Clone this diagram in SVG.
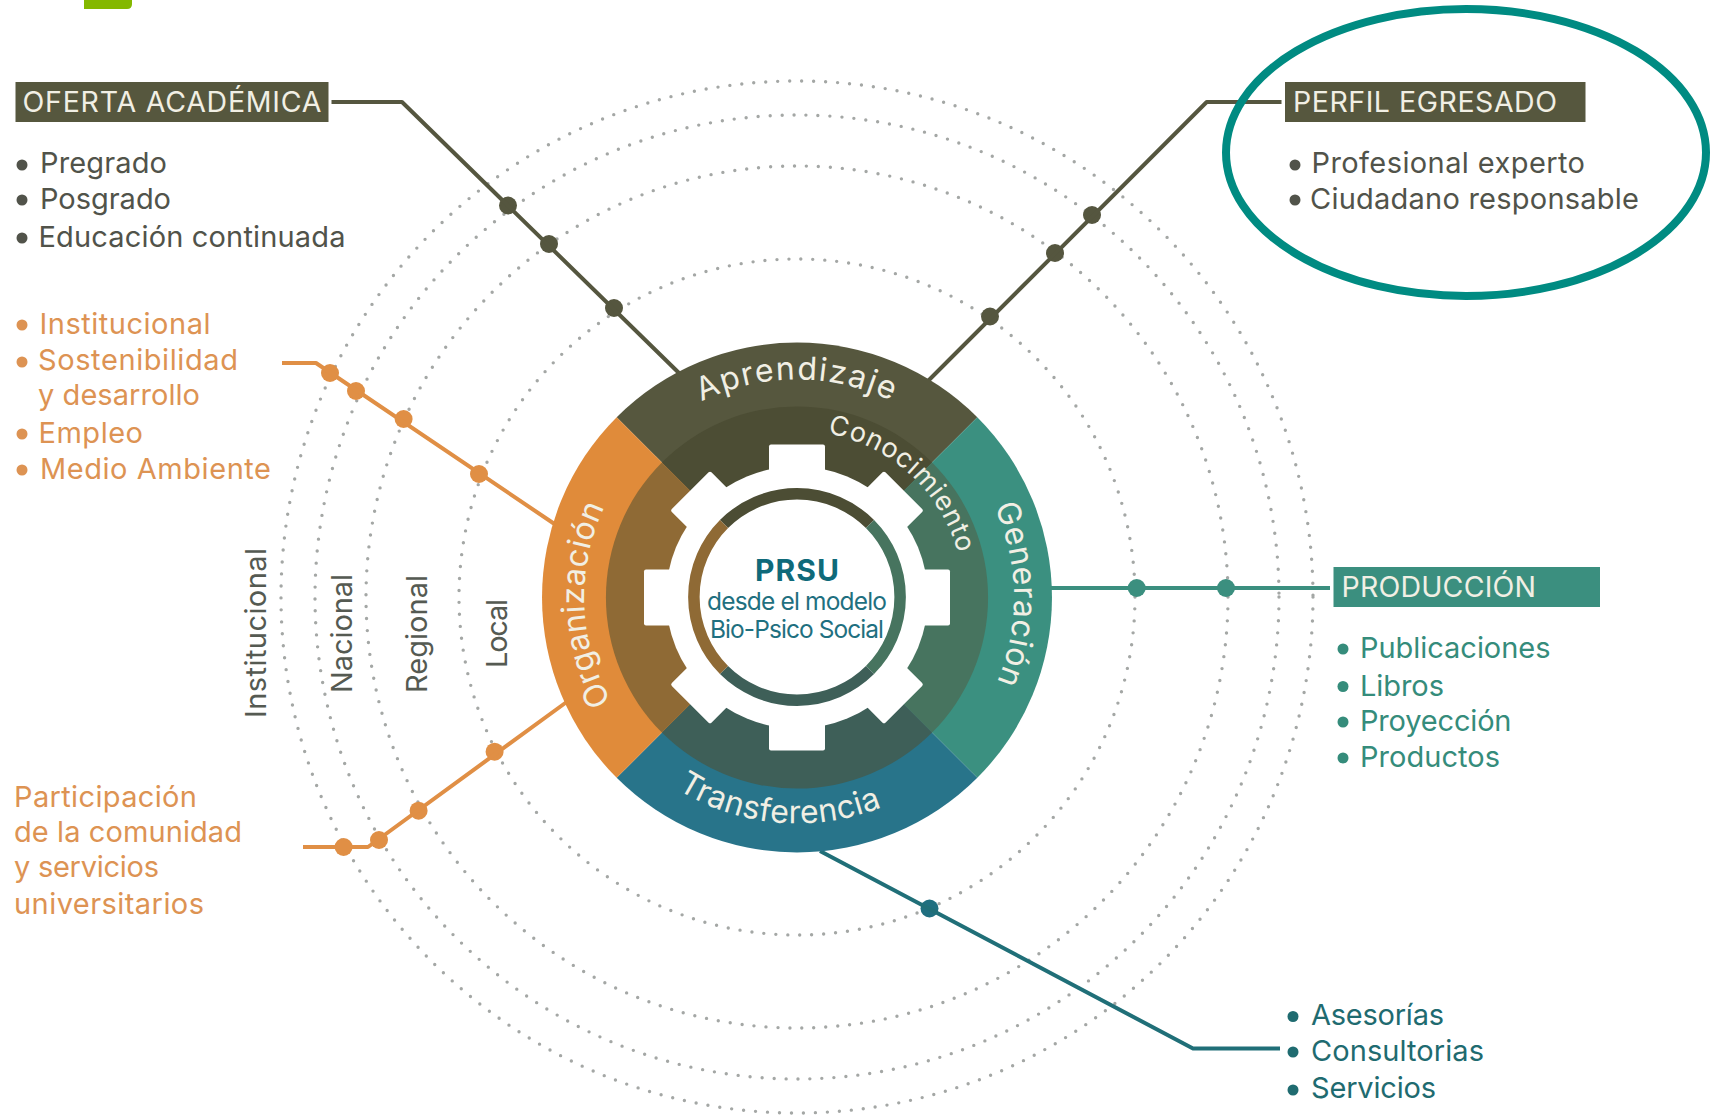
<svg xmlns="http://www.w3.org/2000/svg" width="1711" height="1117" viewBox="0 0 1711 1117">
<style>
text{font-family:"Inter","Liberation Sans",sans-serif;font-size:29px}
.ol{fill:#51534a}.or{fill:#dd9353}.gr{fill:#358c7b}.bl{fill:#1f6b70}
.lb{fill:#f1efe4;font-size:28.5px}
.arc{fill:#f1efe4;font-size:32px}
.orbit{fill:none;stroke:#a4a7a5;stroke-width:3.4;stroke-linecap:round;stroke-dasharray:0 12}
.ln{fill:none;stroke-width:4;stroke-linejoin:round}
.vt{fill:#555a52;font-size:29px}
.c{text-anchor:middle}
</style>
<defs>
<path id="pA" d="M672,418.9A218,218 0 0 1 922,418.9"/>
<path id="pK" d="M797,430.5A167,167 0 0 1 964,597.5"/>
<path id="pG" d="M963.2,457.9A217,217 0 0 1 963.2,737.1"/>
<path id="pO" d="M633.9,734.3A213,213 0 0 1 633.9,460.7"/>
<path id="pT" d="M667.4,782.6A226,226 0 0 0 926.6,782.6"/>
<rect id="tooth" x="-28" y="-153" width="56" height="30" rx="2"/>
<rect id="tooth-d" x="-28" y="-151" width="56" height="30" rx="2"/>
</defs>
<rect width="1711" height="1117" fill="#fff"/>
<path id="green-tab" d="M84,0H132V4Q132,9 127,9H84Z" fill="#84b800"/>
<g id="orbits">
<circle class="orbit" cx="797" cy="597" r="338"/>
<circle class="orbit" cx="797" cy="597" r="431"/>
<circle class="orbit" cx="797" cy="597" r="482"/>
<circle class="orbit" cx="797" cy="597" r="516"/>
</g>
<g id="connectors">
<g fill="#55563f" stroke="none"><circle cx="508" cy="205.5" r="9"/><circle cx="549" cy="244" r="9"/><circle cx="614" cy="308" r="9"/>
<circle cx="1092" cy="215" r="9"/><circle cx="1055" cy="253" r="9"/><circle cx="990" cy="316.5" r="9"/></g>
<path class="ln" stroke="#55563f" d="M331.5,102H402L680,374"/>
<path class="ln" stroke="#55563f" d="M1281.5,102H1206.7L928,381"/>
<g fill="#e08f45"><circle cx="330" cy="373" r="9"/><circle cx="356" cy="391" r="9"/><circle cx="403.6" cy="419" r="9"/><circle cx="479" cy="474" r="9"/>
<circle cx="343.6" cy="847" r="9"/><circle cx="379" cy="840" r="9"/><circle cx="418.6" cy="810.7" r="9"/><circle cx="494.6" cy="751.7" r="9"/></g>
<path class="ln" stroke="#e08f45" d="M282,363H316L556,525"/>
<path class="ln" stroke="#e08f45" d="M303,847H368L568,701"/>
<g fill="#3b8f7f"><circle cx="1136.7" cy="588" r="9"/><circle cx="1226" cy="588" r="9"/></g>
<path class="ln" stroke="#3b8f7f" d="M1050,588H1330"/>
<circle cx="929.5" cy="908.5" r="9" fill="#206f80"/>
<path class="ln" stroke="#206f78" d="M820,851L1193,1048.5H1280"/>
</g>
<g id="ring">
<path id="seg-aprendizaje" fill="#56573e" d="M797,597.5L616.7,417.2A255,255 0 0 1 977.3,417.2Z"/>
<path id="seg-generacion" fill="#3b9080" d="M797,597.5L977.3,417.2A255,255 0 0 1 977.3,777.8Z"/>
<path id="seg-transferencia" fill="#28748a" d="M797,597.5L977.3,777.8A255,255 0 0 1 616.7,777.8Z"/>
<path id="seg-organizacion" fill="#e08b3a" d="M797,597.5L616.7,777.8A255,255 0 0 1 616.7,417.2Z"/>
<path fill="#4c4d34" d="M797,597.5L661.9,462.4A191,191 0 0 1 932.1,462.4Z"/>
<path fill="#47745f" d="M797,597.5L932.1,462.4A191,191 0 0 1 932.1,732.6Z"/>
<path fill="#3e5f58" d="M797,597.5L932.1,732.6A191,191 0 0 1 661.9,732.6Z"/>
<path fill="#8f6a35" d="M797,597.5L661.9,732.6A191,191 0 0 1 661.9,462.4Z"/>
</g>
<g id="gear" fill="#fff" transform="translate(797 597.5)">
<circle r="131"/>
<use href="#tooth"/><use href="#tooth-d" transform="rotate(45)"/><use href="#tooth" transform="rotate(90)"/><use href="#tooth-d" transform="rotate(135)"/>
<use href="#tooth" transform="rotate(180)"/><use href="#tooth-d" transform="rotate(225)"/><use href="#tooth" transform="rotate(270)"/><use href="#tooth-d" transform="rotate(315)"/>
</g>
<g id="hub" fill="none" stroke-width="11.5">
<path stroke="#4c4d34" d="M724,524A103.5,103.5 0 0 1 870,524"/>
<path stroke="#47745f" d="M870,524A103.5,103.5 0 0 1 870,670"/>
<path stroke="#3e5f58" d="M870,670A103.5,103.5 0 0 1 724,670"/>
<path stroke="#8f6a35" d="M724,670A103.5,103.5 0 0 1 724,524"/>
</g>
<g id="ring-labels">
<text class="arc"><textPath href="#pA" startOffset="50%" text-anchor="middle" letter-spacing="1.6">Aprendizaje</textPath></text>
<text class="arc" style="font-size:27px"><textPath href="#pK" startOffset="47.5%" text-anchor="middle" letter-spacing="0.9">Conocimiento</textPath></text>
<text class="arc"><textPath href="#pG" startOffset="49%" text-anchor="middle" letter-spacing="0.7">Generación</textPath></text>
<text class="arc"><textPath href="#pO" startOffset="47.5%" text-anchor="middle" letter-spacing="0.2">Organización</textPath></text>
<text class="arc"><textPath href="#pT" startOffset="43%" text-anchor="middle" letter-spacing="0.5">Transferencia</textPath></text>
</g>
<g id="center">
<text class="c" x="797" y="581" textLength="84" style="font-size:30px;font-weight:700;fill:#0f6a7a">PRSU</text>
<text class="c" x="797" y="609.5" textLength="180" style="font-size:24.5px;fill:#1f7080">desde el modelo</text>
<text class="c" x="797" y="637.5" textLength="174" style="font-size:24.5px;fill:#1f7080">Bio-Psico Social</text>
</g>
<g id="levels">
<text class="vt" transform="translate(266 718) rotate(-90)" textLength="170">Institucional</text>
<text class="vt" transform="translate(352 693) rotate(-90)" textLength="119">Nacional</text>
<text class="vt" transform="translate(427 693) rotate(-90)" textLength="118">Regional</text>
<text class="vt" transform="translate(507 668) rotate(-90)" textLength="69">Local</text>
</g>
<g id="oferta">
<rect x="15.5" y="82" width="313" height="40" fill="#56573e"/>
<text class="lb" x="22.5" y="112" textLength="299">OFERTA ACADÉMICA</text>
<g class="ol"><circle cx="22" cy="165" r="5.5"/><circle cx="22" cy="200" r="5.5"/><circle cx="22" cy="238" r="5.5"/></g>
<text class="ol" x="40" y="173" textLength="127">Pregrado</text>
<text class="ol" x="40" y="208.5" textLength="131">Posgrado</text>
<text class="ol" x="38.5" y="246.5" textLength="307">Educación continuada</text>
</g>
<g id="perfil">
<rect x="1285" y="82" width="300.5" height="40" fill="#56573e"/>
<text class="lb" x="1293" y="112" textLength="264">PERFIL EGRESADO</text>
<g class="ol"><circle cx="1295" cy="165" r="5.5"/><circle cx="1295" cy="200" r="5.5"/></g>
<text class="ol" x="1311.5" y="173" textLength="273.5">Profesional experto</text>
<text class="ol" x="1310" y="208.5" textLength="329">Ciudadano responsable</text>
</g>
<ellipse id="highlight" cx="1466" cy="152.5" rx="240" ry="143.5" fill="none" stroke="#008b82" stroke-width="8"/>
<g id="organizacion">
<g class="or"><circle cx="22" cy="325" r="5.5"/><circle cx="22" cy="362" r="5.5"/><circle cx="22" cy="434" r="5.5"/><circle cx="22" cy="470" r="5.5"/></g>
<text class="or" x="39.5" y="334" textLength="171">Institucional</text>
<text class="or" x="38" y="370" textLength="200">Sostenibilidad</text>
<text class="or" x="38" y="405" textLength="162">y desarrollo</text>
<text class="or" x="38.5" y="442.5" textLength="104.5">Empleo</text>
<text class="or" x="40" y="478.5" textLength="231">Medio Ambiente</text>
</g>
<g id="participacion">
<text class="or" x="14" y="806.5" textLength="183">Participación</text>
<text class="or" x="14" y="841.5" textLength="228">de la comunidad</text>
<text class="or" x="14" y="877" textLength="145">y servicios</text>
<text class="or" x="14" y="914" textLength="190">universitarios</text>
</g>
<g id="produccion">
<rect x="1333.5" y="567" width="266.5" height="40" fill="#3b8f7f"/>
<text class="lb" x="1341.5" y="596.5" textLength="194.5">PRODUCCIÓN</text>
<g class="gr"><circle cx="1343" cy="649" r="5.5"/><circle cx="1343" cy="686.5" r="5.5"/><circle cx="1343" cy="722" r="5.5"/><circle cx="1343" cy="758" r="5.5"/></g>
<text class="gr" x="1360" y="658" textLength="190.5">Publicaciones</text>
<text class="gr" x="1360" y="695.5" textLength="84">Libros</text>
<text class="gr" x="1360" y="731" textLength="151.5">Proyección</text>
<text class="gr" x="1360" y="766.5" textLength="140">Productos</text>
</g>
<g id="transferencia">
<g class="bl"><circle cx="1293" cy="1016.5" r="5.5"/><circle cx="1293" cy="1052" r="5.5"/><circle cx="1293" cy="1090" r="5.5"/></g>
<text class="bl" x="1311" y="1024.5" textLength="133">Asesorías</text>
<text class="bl" x="1311" y="1060.5" textLength="173">Consultorias</text>
<text class="bl" x="1311" y="1097.5" textLength="125">Servicios</text>
</g>
</svg>
